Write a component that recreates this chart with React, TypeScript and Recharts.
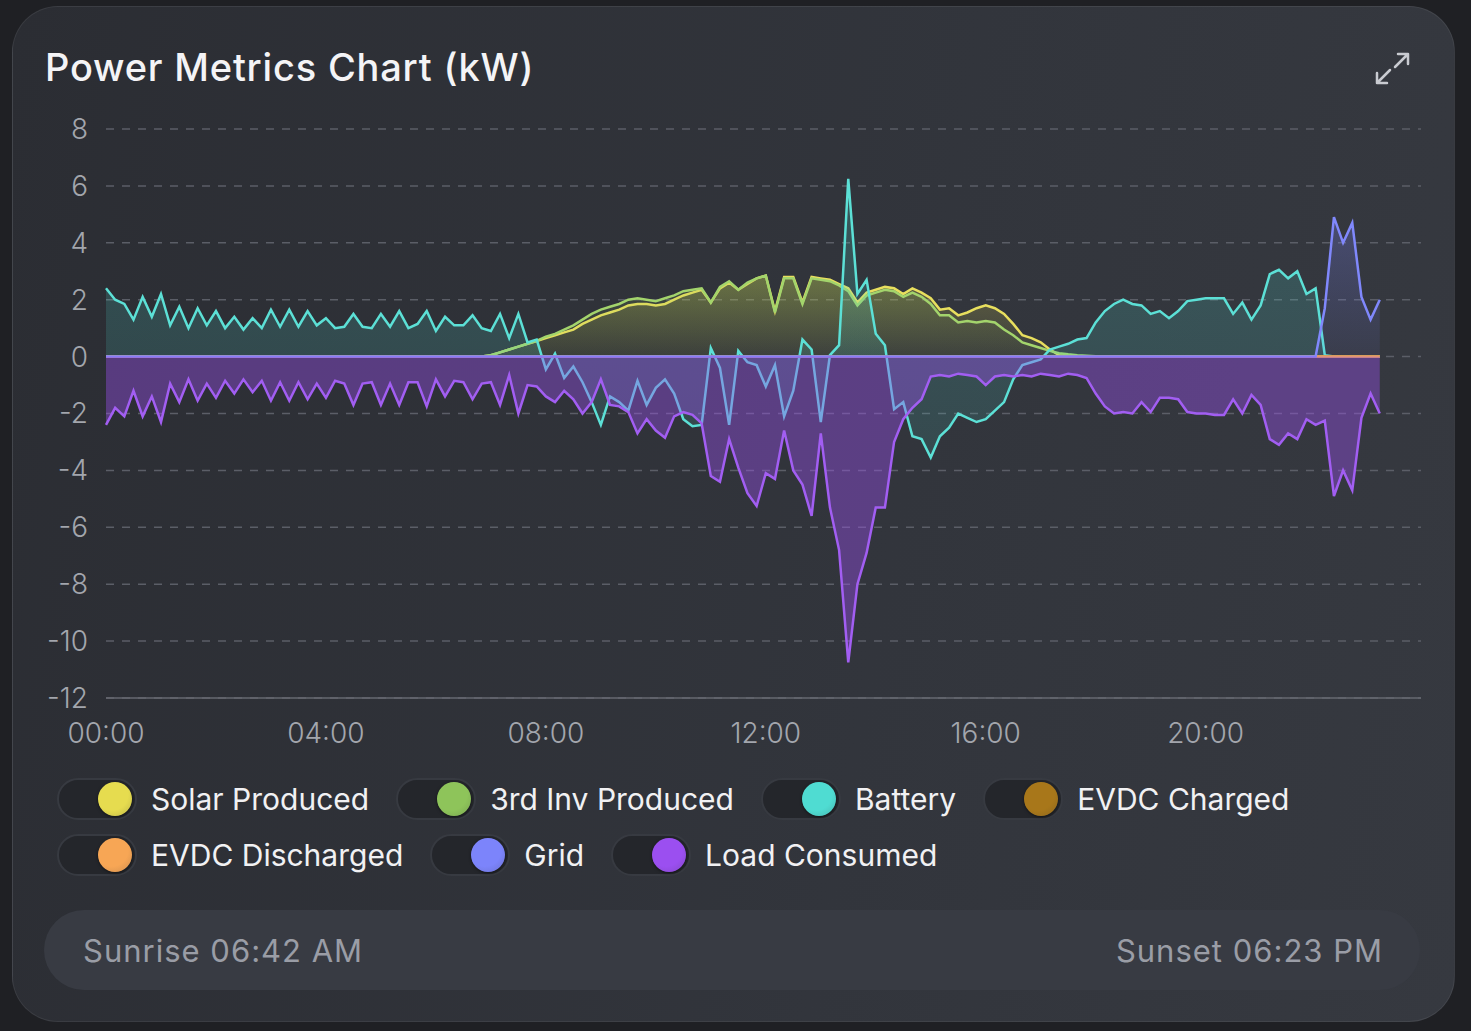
import { AreaChart, Area, XAxis, YAxis, CartesianGrid } from "recharts";

// minutes since midnight, one sample every 10 minutes (00:00 .. 23:10)
const times = Array.from({ length: 140 }, (_, i) => i * 10);

const xTicks = [0, 240, 480, 720, 960, 1200];
const yTicks = [-12, -10, -8, -6, -4, -2, 0, 2, 4, 6, 8];

const solar = [
  0, 0, 0, 0, 0, 0, 0, 0, 0, 0,
  0, 0, 0, 0, 0, 0, 0, 0, 0, 0,
  0, 0, 0, 0, 0, 0, 0, 0, 0, 0,
  0, 0, 0, 0, 0, 0, 0, 0, 0, 0,
  0, 0, 0.05, 0.15, 0.25, 0.35, 0.45, 0.55, 0.65, 0.75,
  0.85, 0.95, 1.15, 1.3, 1.45, 1.55, 1.65, 1.8, 1.85, 1.85,
  1.8, 1.85, 2.0, 2.15, 2.25, 2.35, 1.9, 2.4, 2.6, 2.35,
  2.55, 2.75, 2.85, 1.6, 2.8, 2.8, 1.9, 2.8, 2.75, 2.7,
  2.55, 2.4, 1.9, 2.25, 2.35, 2.45, 2.4, 2.2, 2.4, 2.25,
  2.05, 1.65, 1.7, 1.45, 1.55, 1.7, 1.8, 1.7, 1.5, 1.15,
  0.75, 0.65, 0.5, 0.25, 0.05, 0, 0, 0, 0, 0,
  0, 0, 0, 0, 0, 0, 0, 0, 0, 0,
  0, 0, 0, 0, 0, 0, 0, 0, 0, 0,
  0, 0, 0, 0, 0, 0, 0, 0, 0, 0,
];

const thirdInv = [
  0, 0, 0, 0, 0, 0, 0, 0, 0, 0,
  0, 0, 0, 0, 0, 0, 0, 0, 0, 0,
  0, 0, 0, 0, 0, 0, 0, 0, 0, 0,
  0, 0, 0, 0, 0, 0, 0, 0, 0, 0,
  0, 0, 0.05, 0.15, 0.25, 0.35, 0.45, 0.55, 0.7, 0.8,
  0.95, 1.1, 1.3, 1.5, 1.65, 1.75, 1.85, 2.0, 2.05, 2.0,
  1.95, 2.05, 2.15, 2.3, 2.35, 2.4, 1.9, 2.45, 2.65, 2.35,
  2.6, 2.75, 2.85, 1.55, 2.75, 2.75, 1.85, 2.75, 2.7, 2.65,
  2.5, 2.3, 1.8, 2.15, 2.25, 2.35, 2.3, 2.1, 2.25, 2.1,
  1.85, 1.45, 1.45, 1.2, 1.25, 1.2, 1.25, 1.2, 0.95, 0.75,
  0.5, 0.4, 0.3, 0.2, 0.12, 0.08, 0.05, 0.03, 0.01, 0,
  0, 0, 0, 0, 0, 0, 0, 0, 0, 0,
  0, 0, 0, 0, 0, 0, 0, 0, 0, 0,
  0, 0, 0, 0, 0, 0, 0, 0, 0, 0,
];

const battery = [
  2.4, 2.0, 1.85, 1.3, 2.1, 1.4, 2.2, 1.1, 1.75, 1.0,
  1.7, 1.1, 1.6, 1.0, 1.4, 0.95, 1.35, 1.0, 1.65, 1.05,
  1.65, 1.05, 1.6, 1.1, 1.35, 1.0, 1.05, 1.5, 1.05, 1.0,
  1.5, 1.05, 1.6, 1.0, 1.15, 1.6, 0.9, 1.4, 1.1, 1.1,
  1.45, 1.0, 0.9, 1.5, 0.65, 1.5, 0.5, 0.6, -0.45, 0.1,
  -0.75, -0.35, -0.9, -1.6, -2.4, -1.4, -1.6, -1.9, -0.85, -1.7,
  -1.1, -0.8, -1.3, -2.2, -2.45, -2.4, 0.3, -0.4, -2.4, 0.2,
  -0.2, -0.3, -1.05, -0.3, -2.1, -1.2, 0.6, 0.25, -2.3, 0.05,
  0.4, 6.25, 2.2, 2.7, 0.8, 0.4, -1.85, -1.6, -2.8, -2.9,
  -3.55, -2.8, -2.5, -2.0, -2.15, -2.3, -2.2, -1.9, -1.6, -0.8,
  -0.3, -0.2, -0.1, 0.25, 0.35, 0.45, 0.6, 0.65, 1.2, 1.6,
  1.85, 2.0, 1.85, 1.8, 1.5, 1.6, 1.35, 1.6, 1.95, 2.0,
  2.05, 2.05, 2.05, 1.5, 1.9, 1.3, 1.8, 2.9, 3.05, 2.75,
  3.0, 2.2, 2.4, 0.05, 0, 0, 0, 0, 0, 0,
];

const evdcCharged = [
  0, 0, 0, 0, 0, 0, 0, 0, 0, 0,
  0, 0, 0, 0, 0, 0, 0, 0, 0, 0,
  0, 0, 0, 0, 0, 0, 0, 0, 0, 0,
  0, 0, 0, 0, 0, 0, 0, 0, 0, 0,
  0, 0, 0, 0, 0, 0, 0, 0, 0, 0,
  0, 0, 0, 0, 0, 0, 0, 0, 0, 0,
  0, 0, 0, 0, 0, 0, 0, 0, 0, 0,
  0, 0, 0, 0, 0, 0, 0, 0, 0, 0,
  0, 0, 0, 0, 0, 0, 0, 0, 0, 0,
  0, 0, 0, 0, 0, 0, 0, 0, 0, 0,
  0, 0, 0, 0, 0, 0, 0, 0, 0, 0,
  0, 0, 0, 0, 0, 0, 0, 0, 0, 0,
  0, 0, 0, 0, 0, 0, 0, 0, 0, 0,
  0, 0, 0, 0, 0, 0, 0, 0, 0, 0,
];

const evdcDischarged = [
  0, 0, 0, 0, 0, 0, 0, 0, 0, 0,
  0, 0, 0, 0, 0, 0, 0, 0, 0, 0,
  0, 0, 0, 0, 0, 0, 0, 0, 0, 0,
  0, 0, 0, 0, 0, 0, 0, 0, 0, 0,
  0, 0, 0, 0, 0, 0, 0, 0, 0, 0,
  0, 0, 0, 0, 0, 0, 0, 0, 0, 0,
  0, 0, 0, 0, 0, 0, 0, 0, 0, 0,
  0, 0, 0, 0, 0, 0, 0, 0, 0, 0,
  0, 0, 0, 0, 0, 0, 0, 0, 0, 0,
  0, 0, 0, 0, 0, 0, 0, 0, 0, 0,
  0, 0, 0, 0, 0, 0, 0, 0, 0, 0,
  0, 0, 0, 0, 0, 0, 0, 0, 0, 0,
  0, 0, 0, 0, 0, 0, 0, 0, 0, 0,
  0, 0, 0, 0, 0, 0, 0, 0, 0, 0,
];

const grid = [
  0, 0, 0, 0, 0, 0, 0, 0, 0, 0,
  0, 0, 0, 0, 0, 0, 0, 0, 0, 0,
  0, 0, 0, 0, 0, 0, 0, 0, 0, 0,
  0, 0, 0, 0, 0, 0, 0, 0, 0, 0,
  0, 0, 0, 0, 0, 0, 0, 0, 0, 0,
  0, 0, 0, 0, 0, 0, 0, 0, 0, 0,
  0, 0, 0, 0, 0, 0, 0, 0, 0, 0,
  0, 0, 0, 0, 0, 0, 0, 0, 0, 0,
  0, 0, 0, 0, 0, 0, 0, 0, 0, 0,
  0, 0, 0, 0, 0, 0, 0, 0, 0, 0,
  0, 0, 0, 0, 0, 0, 0, 0, 0, 0,
  0, 0, 0, 0, 0, 0, 0, 0, 0, 0,
  0, 0, 0, 0, 0, 0, 0, 0, 0, 0,
  0, 0, 0, 1.7, 4.9, 4.0, 4.7, 2.1, 1.3, 2.0,
];

const load = [
  -2.4, -1.8, -2.1, -1.2, -2.1, -1.4, -2.3, -0.95, -1.6, -0.8,
  -1.55, -0.95, -1.45, -0.85, -1.3, -0.8, -1.25, -0.85, -1.55, -0.9,
  -1.55, -0.9, -1.5, -0.95, -1.45, -0.85, -0.95, -1.7, -0.95, -0.9,
  -1.7, -0.95, -1.7, -0.9, -0.9, -1.75, -0.8, -1.4, -0.85, -0.9,
  -1.5, -0.95, -0.9, -1.7, -0.65, -2.0, -1.0, -1.05, -1.4, -1.6,
  -1.2, -1.5, -2.0, -1.6, -0.8, -1.7, -1.75, -1.95, -2.7, -2.2,
  -2.6, -2.85, -2.1, -1.95, -2.05, -2.35, -4.2, -4.4, -2.9, -3.9,
  -4.8, -5.25, -4.1, -4.3, -2.6, -4.0, -4.5, -5.6, -2.7, -5.3,
  -6.8, -10.75, -8.0, -6.9, -5.3, -5.3, -3.0, -2.2, -1.8, -1.5,
  -0.7, -0.65, -0.7, -0.6, -0.65, -0.7, -1.0, -0.7, -0.65, -0.7,
  -0.65, -0.7, -0.6, -0.65, -0.7, -0.6, -0.65, -0.75, -1.3, -1.75,
  -2.0, -1.95, -2.0, -1.6, -1.95, -1.45, -1.45, -1.5, -1.95, -2.0,
  -2.0, -2.05, -2.05, -1.5, -2.0, -1.35, -1.7, -2.9, -3.1, -2.7,
  -2.9, -2.2, -2.4, -2.25, -4.9, -4.0, -4.7, -2.15, -1.3, -2.0,
];

const data = times.map((t, i) => ({
  t,
  solar: solar[i],
  thirdInv: thirdInv[i],
  battery: battery[i],
  evdcCharged: evdcCharged[i],
  evdcDischarged: evdcDischarged[i],
  grid: grid[i],
  load: load[i],
}));

const legendRows = [
  [
    { name: "Solar Produced", color: "#e6dc4f" },
    { name: "3rd Inv Produced", color: "#8ec45a" },
    { name: "Battery", color: "#4fdcd2" },
    { name: "EVDC Charged", color: "#a8771a" },
  ],
  [
    { name: "EVDC Discharged", color: "#f7a655" },
    { name: "Grid", color: "#7c84fb" },
    { name: "Load Consumed", color: "#9b4ff0" },
  ],
];

const FONT = "Inter, 'Noto Sans', sans-serif";

const fmtTime = (m: number) => {
  const h = Math.floor(m / 60);
  const mm = m % 60;
  return `${String(h).padStart(2, "0")}:${String(mm).padStart(2, "0")}`;
};

function Toggle({ color }: { color: string }) {
  return (
    <div
      style={{
        position: "relative",
        width: 80,
        height: 42,
        borderRadius: 21,
        background: "#24262b",
        border: "2px solid #373a41",
        boxSizing: "border-box",
        flexShrink: 0,
      }}
    >
      <div
        style={{
          position: "absolute",
          right: 3,
          top: 2,
          width: 34,
          height: 34,
          borderRadius: 17,
          background: `radial-gradient(circle at 40% 35%, ${color} 55%, ${color}cc 100%)`,
          boxShadow: "0 1px 3px rgba(0,0,0,0.5)",
        }}
      />
    </div>
  );
}

function LegendRow({ items, top }: { items: { name: string; color: string }[]; top: number }) {
  return (
    <div
      style={{
        position: "absolute",
        left: 57,
        top,
        display: "flex",
        alignItems: "center",
        height: 42,
      }}
    >
      {items.map((it) => (
        <div key={it.name} style={{ display: "flex", alignItems: "center", marginRight: 27 }}>
          <Toggle color={it.color} />
          <span
            style={{
              marginLeft: 14,
              fontFamily: FONT,
              fontSize: 30,
              color: "#f1f1f3",
              whiteSpace: "nowrap",
            }}
          >
            {it.name}
          </span>
        </div>
      ))}
    </div>
  );
}

export default function App() {
  const tickStyle = { fill: "#a3a6ad", fontSize: 28, fontFamily: FONT, fontWeight: 300 };
  return (
    <div
      style={{
        position: "relative",
        width: 1471,
        height: 1031,
        background: "#1f2024",
        overflow: "hidden",
      }}
    >
      <style>{"body{margin:0;}"}</style>
      <div
        style={{
          position: "absolute",
          left: 12,
          top: 6,
          width: 1443,
          height: 1016,
          borderRadius: 46,
          background: "linear-gradient(100deg, #2b2d33 0%, #32353c 60%, #363940 100%)",
          border: "1.5px solid rgba(255,255,255,0.07)",
          boxSizing: "border-box",
        }}
      />
      <div
        style={{
          position: "absolute",
          left: 45,
          top: 44,
          fontFamily: FONT,
          fontSize: 38,
          fontWeight: 500,
          letterSpacing: 0.8,
          color: "#f4f4f6",
          lineHeight: "46px",
        }}
      >
        Power Metrics Chart (kW)
      </div>
      <svg
        style={{ position: "absolute", left: 1370, top: 48 }}
        width={45}
        height={42}
        viewBox="1370 48 45 42"
      >
        <g stroke="#c9cbd1" strokeWidth={2.5} fill="none" strokeLinecap="round" strokeLinejoin="round">
          <path d="M1395 67 L1408 54 M1398 54 L1408 54 L1408 64" />
          <path d="M1390 70 L1377 83 M1377 73 L1377 83 L1387 83" />
        </g>
      </svg>

      <div style={{ position: "absolute", left: 0, top: 0 }}>
        <AreaChart
          width={1471}
          height={750}
          data={data}
          margin={{ top: 129, right: 50, bottom: 0, left: 0 }}
        >
          <defs>
            <linearGradient id="gSolar" x1="0" y1="0" x2="0" y2="1">
              <stop offset="0%" stopColor="#e6dc4f" stopOpacity={0.45} />
              <stop offset="100%" stopColor="#e6dc4f" stopOpacity={0.08} />
            </linearGradient>
            <linearGradient id="gInv" x1="0" y1="0" x2="0" y2="1">
              <stop offset="0%" stopColor="#8ec45a" stopOpacity={0.3} />
              <stop offset="100%" stopColor="#8ec45a" stopOpacity={0.05} />
            </linearGradient>
            <linearGradient id="gBattery" x1="0" y1="0" x2="0" y2="1">
              <stop offset="0%" stopColor="#4fdcd2" stopOpacity={0.35} />
              <stop offset="100%" stopColor="#4fdcd2" stopOpacity={0.2} />
            </linearGradient>
            <linearGradient id="gGrid" x1="0" y1="0" x2="0" y2="1">
              <stop offset="0%" stopColor="#7c84fb" stopOpacity={0.45} />
              <stop offset="100%" stopColor="#7c84fb" stopOpacity={0.12} />
            </linearGradient>
          </defs>
          <CartesianGrid vertical={false} stroke="#5b5e67" strokeDasharray="8 8" strokeWidth={1.5} />
          <XAxis
            dataKey="t"
            type="number"
            domain={[0, 1435]}
            ticks={xTicks}
            interval={0}
            tickFormatter={fmtTime}
            tick={tickStyle}
            tickLine={false}
            axisLine={{ stroke: "#666971", strokeWidth: 1.5 }}
            tickMargin={19}
            height={52}
          />
          <YAxis
            type="number"
            domain={[-12, 8]}
            ticks={yTicks}
            interval={0}
            tick={tickStyle}
            tickLine={false}
            axisLine={false}
            tickMargin={12}
            width={106}
          />
          <Area
            type="linear"
            dataKey="solar"
            stroke="#e8df5e"
            strokeWidth={2.5}
            fill="url(#gSolar)"
            isAnimationActive={false}
            dot={false}
            activeDot={false}
          />
          <Area
            type="linear"
            dataKey="thirdInv"
            stroke="#a3d46c"
            strokeWidth={2.5}
            fill="url(#gInv)"
            isAnimationActive={false}
            dot={false}
            activeDot={false}
          />
          <Area
            type="linear"
            dataKey="battery"
            stroke="#5ce0d6"
            strokeWidth={2.5}
            fill="url(#gBattery)"
            isAnimationActive={false}
            dot={false}
            activeDot={false}
          />
          <Area
            type="linear"
            dataKey="evdcCharged"
            stroke="#a8771a"
            strokeWidth={2.5}
            fill="#a8771a"
            fillOpacity={0.2}
            isAnimationActive={false}
            dot={false}
            activeDot={false}
          />
          <Area
            type="linear"
            dataKey="evdcDischarged"
            stroke="#f7a655"
            strokeWidth={2.5}
            fill="#f7a655"
            fillOpacity={0.2}
            isAnimationActive={false}
            dot={false}
            activeDot={false}
          />
          <Area
            type="linear"
            dataKey="grid"
            stroke="#8088fc"
            strokeWidth={2.5}
            fill="url(#gGrid)"
            isAnimationActive={false}
            dot={false}
            activeDot={false}
          />
          <Area
            type="linear"
            dataKey="load"
            stroke="#a25ef2"
            strokeWidth={2.5}
            fill="#9b4ff0"
            fillOpacity={0.4}
            isAnimationActive={false}
            dot={false}
            activeDot={false}
          />
        </AreaChart>
      </div>

      <LegendRow items={legendRows[0]} top={778} />
      <LegendRow items={legendRows[1]} top={834} />

      <div
        style={{
          position: "absolute",
          left: 44,
          top: 910,
          width: 1376,
          height: 80,
          borderRadius: 40,
          background: "#383b43",
          display: "flex",
          alignItems: "center",
          justifyContent: "space-between",
          padding: "0 37px 0 39px",
          boxSizing: "border-box",
          fontFamily: FONT,
          fontSize: 31,
          letterSpacing: 1,
          color: "#9a9da6",
        }}
      >
        <span>Sunrise 06:42 AM</span>
        <span>Sunset 06:23 PM</span>
      </div>
    </div>
  );
}
